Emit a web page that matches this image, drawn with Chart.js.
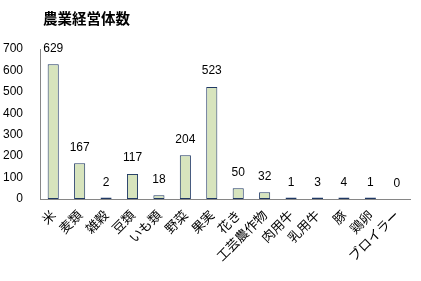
<!DOCTYPE html>
<html>
<head>
<meta charset="utf-8">
<script src="https://cdn.jsdelivr.net/npm/chart.js@4/dist/chart.umd.min.js"></script>
<style>
  html, body { margin: 0; padding: 0; background: #fff; }
  #wrap { width: 421px; height: 281px; }
</style>
</head>
<body>
<div id="wrap"><canvas id="c" width="421" height="281"></canvas></div>
<script>
// 農業経営体数（部門別）
const categories = ['米', '麦類', '雑穀', '豆類', 'いも類', '野菜', '果実', '花き', '工芸農作物', '肉用牛', '乳用牛', '豚', '鶏卵', 'ブロイラー'];
const counts = [629, 167, 2, 117, 18, 204, 523, 50, 32, 1, 3, 4, 1, 0];
const yTicks = [0, 100, 200, 300, 400, 500, 600, 700];
const chartTitle = '農業経営体数';

const numFont = '"Liberation Sans", Arial, sans-serif';
const jpFont = '"Noto Sans CJK JP", "Noto Sans", sans-serif';

// Title drawn in the top-left corner
const titlePlugin = {
  id: 'cornerTitle',
  afterDraw(chart) {
    const ctx = chart.ctx;
    ctx.save();
    ctx.font = 'bold 14.5px ' + jpFont;
    ctx.fillStyle = '#000';
    ctx.textAlign = 'left';
    ctx.textBaseline = 'middle';
    ctx.fillText(chartTitle, 43, 18);
    ctx.restore();
  }
};

// Value labels above every bar
const valueLabels = {
  id: 'valueLabels',
  afterDatasetsDraw(chart) {
    const ctx = chart.ctx;
    const meta = chart.getDatasetMeta(0);
    const baseY = chart.scales.y.getPixelForValue(0);
    ctx.save();
    ctx.font = '12px ' + numFont;
    ctx.fillStyle = '#000';
    ctx.textAlign = 'center';
    ctx.textBaseline = 'alphabetic';
    meta.data.forEach((bar, i) => {
      const top = chart.scales.y.getPixelForValue(counts[i]);
      ctx.fillText(String(counts[i]), bar.x, Math.min(top, baseY) - 12.5);
    });
    ctx.restore();
  }
};

new Chart(document.getElementById('c'), {
  type: 'bar',
  data: {
    labels: categories,
    datasets: [{
      data: counts,
      backgroundColor: counts.map(v => (v === 0 ? 'rgba(0,0,0,0)' : '#d7e4bd')),
      borderColor: '#1f3864',
      borderWidth: counts.map(v => (v === 0 ? 0 : 1)),
      borderSkipped: false,
      minBarLength: 1.5,
      categoryPercentage: 1,
      barPercentage: 0.42
    }]
  },
  options: {
    responsive: false,
    animation: false,
    devicePixelRatio: 1,
    layout: { padding: { top: 49, right: 11, left: 0, bottom: 0 } },
    plugins: {
      legend: { display: false },
      title: { display: false },
      tooltip: { enabled: false }
    },
    scales: {
      x: {
        grid: { display: false, drawTicks: false },
        border: { display: true, color: '#868686', width: 1 },
        ticks: {
          autoSkip: false,
          maxRotation: 45,
          minRotation: 45,
          padding: 8,
          color: '#000',
          font: { family: jpFont, size: 13 }
        },
        afterFit(scale) { scale.height = 82; }
      },
      y: {
        min: yTicks[0],
        max: yTicks[yTicks.length - 1],
        grid: { display: false, drawTicks: false },
        border: { display: true, color: '#868686', width: 1 },
        afterBuildTicks(scale) { scale.ticks = yTicks.map(v => ({ value: v })); },
        ticks: {
          padding: 17,
          color: '#000',
          font: { family: numFont, size: 12 }
        },
        afterFit(scale) { scale.width = 40; }
      }
    }
  },
  plugins: [titlePlugin, valueLabels]
});
</script>
</body>
</html>
